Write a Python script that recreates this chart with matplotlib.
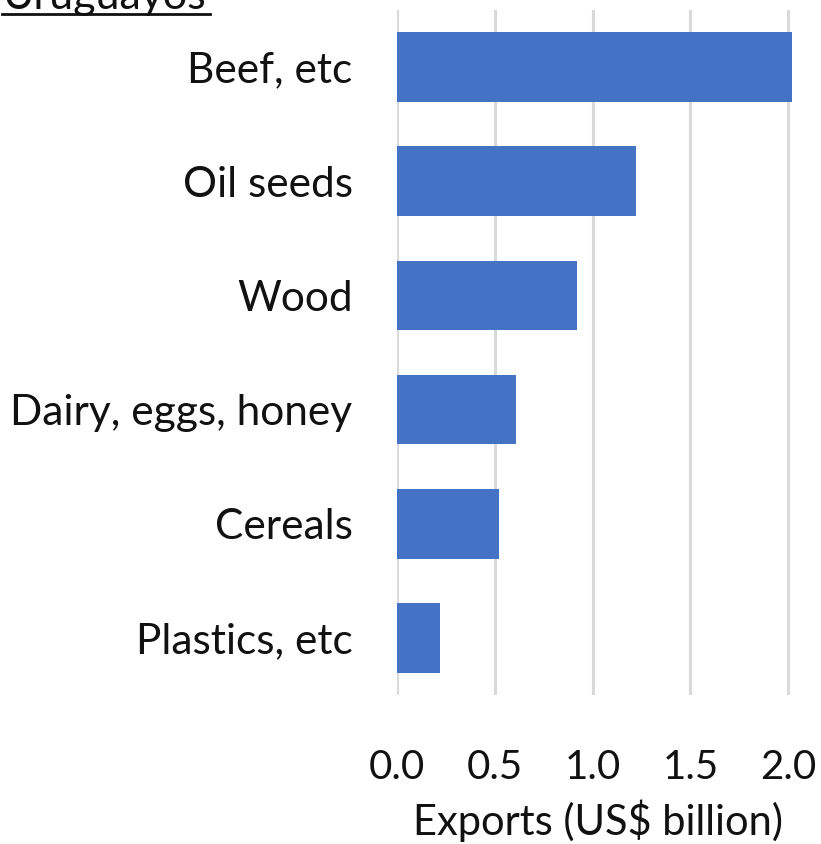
import matplotlib.pyplot as plt
from matplotlib.lines import Line2D

# =========================
# Data
# =========================
categories = [
    "Beef, etc",
    "Oil seeds",
    "Wood",
    "Dairy, eggs, honey",
    "Cereals",
    "Plastics, etc"
]

exports = [2.02, 1.22, 0.92, 0.61, 0.52, 0.22]

x_ticks = [0.0, 0.5, 1.0, 1.5, 2.0]
x_tick_labels = ["0.0", "0.5", "1.0", "1.5", "2.0"]

plt.rcParams["font.family"] = ["Lato", "DejaVu Sans"]

# =========================
# Figure
# =========================
fig = plt.figure(figsize=(8.21, 8.44), dpi=100)

ax = fig.add_axes([0.4836, 0.1765, 0.4836, 0.8117])

y_pos = list(range(len(categories)))

ax.barh(
    y_pos,
    exports,
    height=0.61,
    color="#4472C4",
    zorder=3
)

ax.set_ylim(len(categories) - 0.5, -0.5)
ax.set_xlim(0, 2.03)

ax.set_yticks(y_pos)
ax.set_yticklabels(categories, fontsize=30.5, color="#111111")

ax.set_xticks(x_ticks)
ax.set_xticklabels(x_tick_labels, fontsize=29, color="#111111")

ax.tick_params(axis="y", length=0, pad=32)
ax.tick_params(axis="x", length=0, pad=39)

ax.grid(axis="x", color="#d9d9d9", linewidth=2.2, zorder=0)
ax.grid(axis="y", visible=False)

for spine in ax.spines.values():
    spine.set_visible(False)

# =========================
# Texts
# =========================
fig.text(
    0.728,
    0.027,
    "Exports (US$ billion)",
    ha="center",
    va="center",
    fontsize=30,
    color="#111111"
)

fig.text(
    0.003,
    0.9895,
    "Uruguayos",
    ha="left",
    va="baseline",
    fontsize=31,
    color="#111111"
)

fig.add_artist(
    Line2D(
        [0.003, 0.256],
        [0.9830, 0.9830],
        transform=fig.transFigure,
        color="#111111",
        linewidth=2.0
    )
)

fig.savefig("out.png", dpi=100)
